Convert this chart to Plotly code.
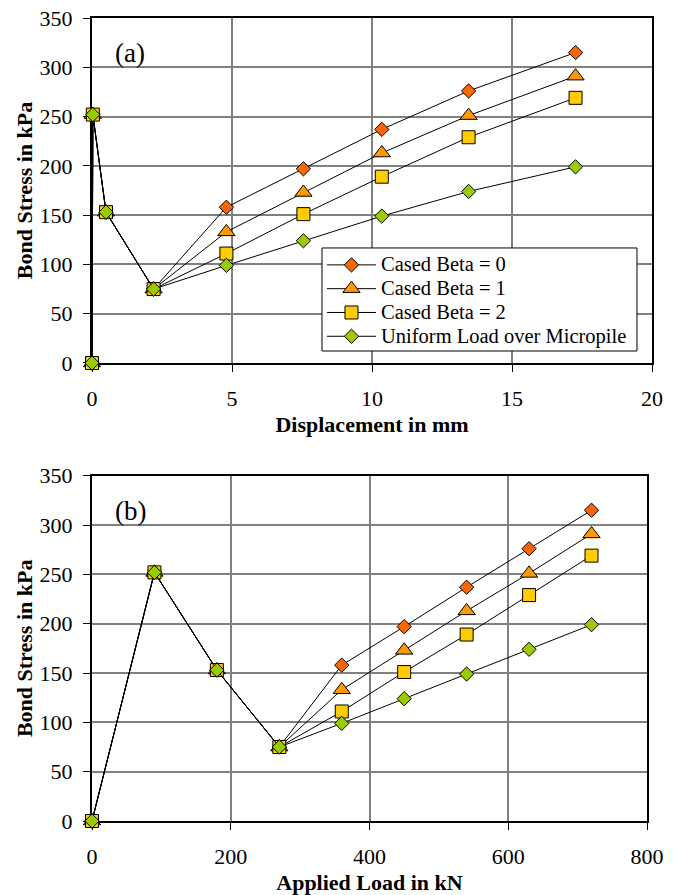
import plotly.graph_objects as go

# ---- data ----
displacement_mm = [0, 0.03, 0.5, 2.2, 4.8, 7.55, 10.35, 13.45, 17.27]
applied_load_kN = [0, 90, 180, 270, 360, 450, 540, 630, 720]

beta0 = [0, 252, 153, 75, 158, 197, 237, 276, 315]
beta1 = [0, 252, 153, 75, 133, 173, 213, 251, 291]
beta2 = [0, 252, 153, 75, 111, 151, 189, 229, 269]
uniform = [0, 252, 153, 75, 99, 124, 149, 174, 199]

series_names = ["Cased Beta = 0", "Cased Beta = 1", "Cased Beta = 2",
                "Uniform Load over Micropile"]
series_values = [beta0, beta1, beta2, uniform]
series_colors = ["#FF6600", "#FF9900", "#FFCC00", "#99CC00"]
series_symbols = ["diamond", "triangle-up", "square", "diamond"]
series_sizes = [11, 15, 13, 11]

x_ticks_a = [0, 5, 10, 15, 20]
x_ticks_b = [0, 200, 400, 600, 800]
y_ticks = [0, 50, 100, 150, 200, 250, 300, 350]

FONT = "Liberation Serif"

fig = go.Figure()

for name, vals, col, sym, sz in zip(series_names, series_values, series_colors,
                                     series_symbols, series_sizes):
    fig.add_trace(go.Scatter(
        x=displacement_mm, y=vals,
        name='<span style="font-size:20.5px">' + name + '</span>',
        mode="lines+markers",
        line=dict(color="black", width=1),
        marker=dict(symbol=sym, size=sz, color=col,
                    line=dict(color="black", width=1)),
        cliponaxis=False, xaxis="x", yaxis="y", showlegend=True))
for name, vals, col, sym, sz in zip(series_names, series_values, series_colors,
                                     series_symbols, series_sizes):
    fig.add_trace(go.Scatter(
        x=applied_load_kN, y=vals, name=name, mode="lines+markers",
        line=dict(color="black", width=1),
        marker=dict(symbol=sym, size=sz, color=col,
                    line=dict(color="black", width=1)),
        cliponaxis=False, xaxis="x2", yaxis="y2", showlegend=False))

axis_common = dict(
    showgrid=True, gridcolor="#808080", gridwidth=2,
    showline=True, linecolor="black", linewidth=2, mirror=True,
    ticks="outside", ticklen=7, tickcolor="black", tickwidth=1,
    zeroline=False, layer="below traces", automargin=False,
    tickfont=dict(family=FONT, size=22, color="black"),
)
title_font = dict(family=FONT, size=22, color="black")

LEG_X0, LEG_X1 = 0.4107, 0.9732
LEG_Y0, LEG_Y1 = 0.5853, 0.7136

fig.update_layout(
    width=677, height=895,
    margin=dict(l=92, r=25, t=18, b=74),
    paper_bgcolor="white", plot_bgcolor="white",
    font=dict(family=FONT, size=20, color="black"),
    xaxis=dict(axis_common, domain=[0, 1], range=[0, 20], tickvals=x_ticks_a,
               anchor="y", ticklabelstandoff=8,
               title=dict(text="<b>Displacement in mm</b>", font=title_font, standoff=6)),
    yaxis=dict(axis_common, domain=[0.5704, 1], range=[0, 350], tickvals=y_ticks,
               anchor="x", ticklabelstandoff=6,
               title=dict(text="<b>Bond Stress in kPa</b>", font=title_font, standoff=1)),
    xaxis2=dict(axis_common, domain=[0, 0.9911], range=[0, 800], tickvals=x_ticks_b,
                anchor="y2", ticklabelstandoff=8,
                title=dict(text="<b>Applied Load in kN</b>", font=title_font, standoff=6)),
    yaxis2=dict(axis_common, domain=[0, 0.43], range=[0, 350], tickvals=y_ticks,
                anchor="x2", ticklabelstandoff=6,
                title=dict(text="<b>Bond Stress in kPa</b>", font=title_font, standoff=1)),
    legend=dict(x=LEG_X0, y=LEG_Y1, xanchor="left", yanchor="top",
                bgcolor="rgba(0,0,0,0)", borderwidth=0,
                font=dict(family=FONT, size=16, color="black"),
                tracegroupgap=0, itemwidth=49),
    shapes=[dict(type="rect", xref="paper", yref="paper",
                 x0=LEG_X0, x1=LEG_X1, y0=LEG_Y0, y1=LEG_Y1,
                 fillcolor="white", line=dict(color="black", width=1),
                 layer="above")],
)

fig.add_annotation(text="(a)", x=1.36, y=314, xref="x", yref="y", showarrow=False,
                   font=dict(family=FONT, size=27, color="black"))
fig.add_annotation(text="(b)", x=55, y=314, xref="x2", yref="y2", showarrow=False,
                   font=dict(family=FONT, size=27, color="black"))

fig.write_html("out.html")
